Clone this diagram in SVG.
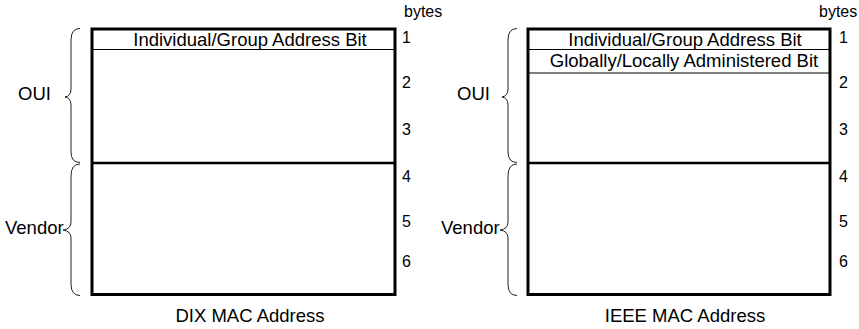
<svg xmlns="http://www.w3.org/2000/svg" width="859" height="329" viewBox="0 0 859 329">
  <style>
    text { font-family: "Liberation Sans", Arial, sans-serif; fill: #000; }
    .lbl { font-size: 18.5px; }
    .num { font-size: 16px; }
    .mid { text-anchor: middle; }
    .frame { fill: none; stroke: #000; stroke-width: 3; }
    .split { fill: none; stroke: #000; stroke-width: 2.5; }
    .thin { fill: none; stroke: #000; stroke-width: 1; }
    .brace { fill: none; stroke: #222; stroke-width: 1; }
  </style>
  <defs>
    <!-- OUI brace spanning bytes 1-3 -->
    <path id="braceOui" class="brace" d="M80,28.5 Q71,28.5 71,40 L71,89 Q71,96 65,97 Q71,98 71,105 L71,152 Q71,162.5 80,162.5"/>
    <!-- Vendor brace spanning bytes 4-6 -->
    <path id="braceVendor" class="brace" d="M80,164 Q71,164 71,176 L71,222 Q71,229 63,230 Q71,231 71,238 L71,284 Q71,295.5 80,295.5"/>
  </defs>

  <!-- DIX MAC address layout -->
  <g id="dix">
    <g id="dix-box">
      <rect class="frame" x="92" y="29" width="303" height="265.5"/>
      <line class="thin" x1="92" y1="49.5" x2="395" y2="49.5"/>
      <line class="split" x1="92" y1="163" x2="395" y2="163"/>
      <text class="lbl mid" x="250" y="45.5">Individual/Group Address Bit</text>
    </g>
    <g id="dix-bytes">
      <text class="num" x="404" y="17">bytes</text>
      <text class="num" x="402" y="43">1</text>
      <text class="num" x="402" y="88">2</text>
      <text class="num" x="402" y="135">3</text>
      <text class="num" x="402" y="182">4</text>
      <text class="num" x="402" y="227">5</text>
      <text class="num" x="402" y="267">6</text>
    </g>
    <g id="dix-oui">
      <use href="#braceOui"/>
      <text class="lbl" x="18" y="100">OUI</text>
    </g>
    <g id="dix-vendor">
      <use href="#braceVendor"/>
      <text class="lbl" x="5" y="234">Vendor</text>
    </g>
    <text id="dix-caption" class="lbl mid" x="250" y="321.5">DIX MAC Address</text>
  </g>

  <!-- IEEE MAC address layout -->
  <g id="ieee">
    <g id="ieee-box">
      <rect class="frame" x="528" y="29" width="302" height="265.5"/>
      <line class="thin" x1="528" y1="49.5" x2="830" y2="49.5"/>
      <line class="thin" x1="528" y1="73" x2="830" y2="73"/>
      <line class="split" x1="528" y1="163" x2="830" y2="163"/>
      <text class="lbl mid" x="685" y="45.5">Individual/Group Address Bit</text>
      <text class="lbl mid" x="684" y="66.5">Globally/Locally Administered Bit</text>
    </g>
    <g id="ieee-bytes">
      <text class="num" x="819" y="17">bytes</text>
      <text class="num" x="839" y="43">1</text>
      <text class="num" x="839" y="88">2</text>
      <text class="num" x="839" y="135">3</text>
      <text class="num" x="839" y="182">4</text>
      <text class="num" x="839" y="227">5</text>
      <text class="num" x="839" y="267">6</text>
    </g>
    <g id="ieee-oui">
      <use href="#braceOui" transform="translate(437,0)"/>
      <text class="lbl" x="457" y="100">OUI</text>
    </g>
    <g id="ieee-vendor">
      <use href="#braceVendor" transform="translate(437,0)"/>
      <text class="lbl" x="441" y="234">Vendor</text>
    </g>
    <text id="ieee-caption" class="lbl mid" x="685" y="321.5">IEEE MAC Address</text>
  </g>
</svg>
